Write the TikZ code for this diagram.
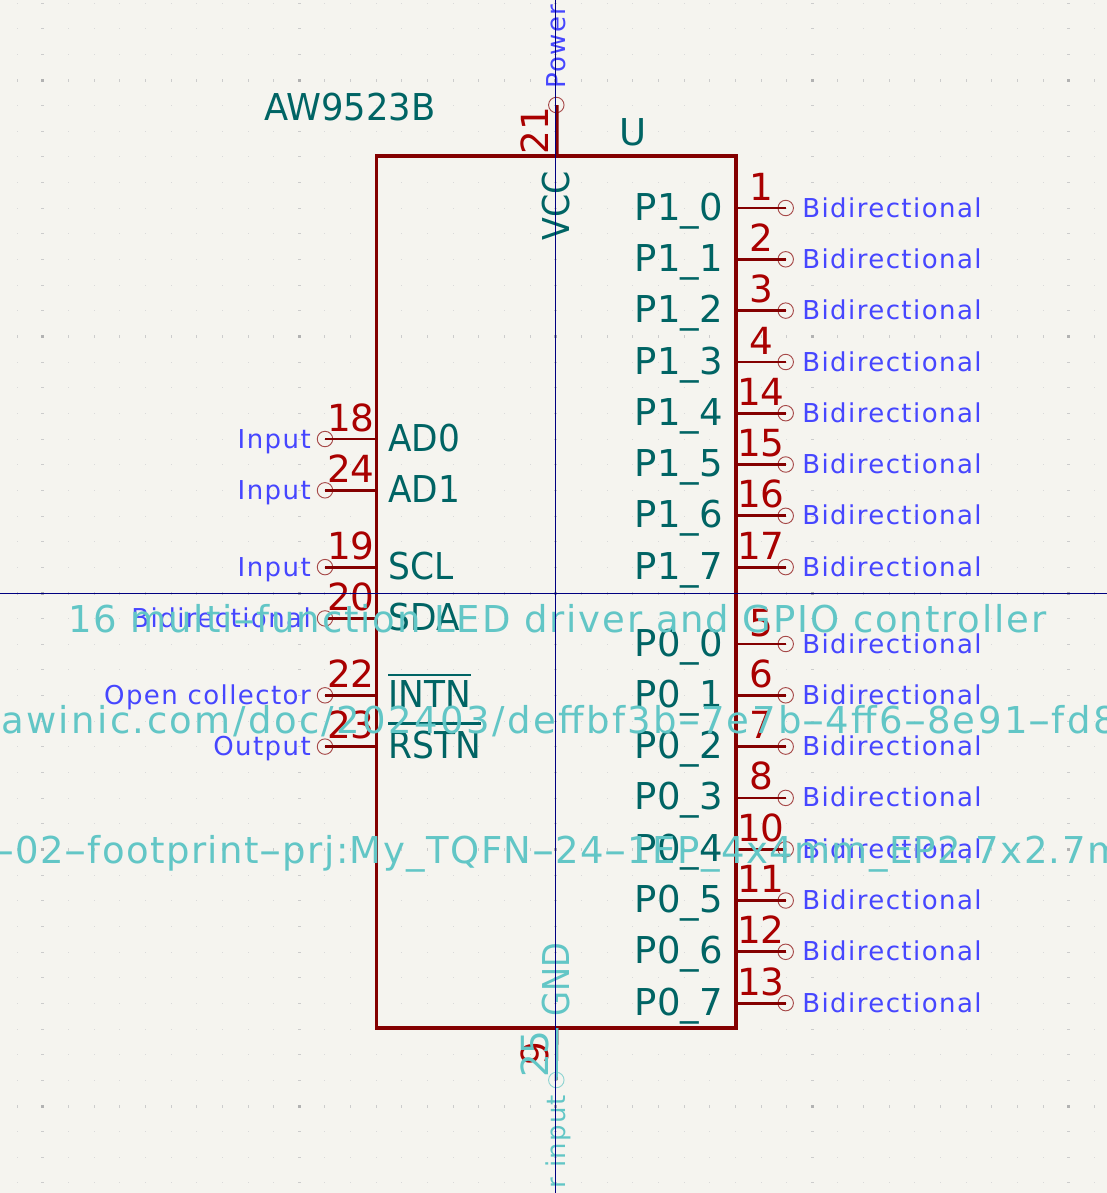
\documentclass[tikz,border=0pt]{standalone}
\usepackage{fontspec}
\setmainfont{DejaVu Sans}
\newfontfamily\typefont[LetterSpace=5.5]{DejaVu Sans}
\newfontfamily\longfont[LetterSpace=5]{DejaVu Sans}
\newfontfamily\urlfont[LetterSpace=6.5]{DejaVu Sans}
\newfontfamily\fpfont[LetterSpace=3.8]{DejaVu Sans}
\newcommand{\hy}{\scalebox{1.8}[1]{-}}
\newcommand{\narrow}[2]{\scalebox{#1}[1]{#2}}
\definecolor{sheet}{HTML}{F5F4EF}
\definecolor{pinred}{HTML}{840000}
\definecolor{numred}{HTML}{A90000}
\definecolor{nameteal}{HTML}{006464}
\definecolor{hiddenteal}{HTML}{62C6C6}
\definecolor{typeblue}{HTML}{4646FF}
\definecolor{crossblue}{HTML}{000080}
\begin{document}
\begin{tikzpicture}[x=0.75pt,y=-0.75pt]
    \tikzstyle{icbox}=[rectangle,draw=pinred,line width=2.4pt,inner sep=0pt,outer sep=0pt,minimum width=269.5pt,minimum height=654pt]
    \tikzstyle{pinend}=[circle,draw=pinred!70!sheet,line width=0.7pt,inner sep=0pt,minimum size=11.6pt]
    \tikzstyle{hiddenend}=[pinend,draw=hiddenteal!70!sheet]
    \tikzstyle{pinline}=[draw=pinred,line width=2.1pt]
    \tikzstyle{pinnum}=[inner sep=0pt,text=numred,font=\fontsize{28}{30}\selectfont]
    \tikzstyle{pinname}=[inner sep=0pt,text=nameteal,font=\fontsize{27.75}{30}\selectfont]
    \tikzstyle{pintype}=[inner sep=0pt,text=typeblue,font=\typefont\fontsize{19.5}{21}\selectfont]
    \tikzstyle{hiddentext}=[inner sep=0pt,text=hiddenteal,font=\longfont\fontsize{27.75}{30}\selectfont]
    \tikzstyle{overbar}=[draw=nameteal,line width=2.1pt]
    \clip (0,0) rectangle (1107,1193);
    \fill[sheet] (0,0) rectangle (1107,1193);
    \foreach \ci in {-21,...,21} \foreach \rj in {-23,...,23}
      \fill[black!15] (555.8+25.65*\ci-0.5,593+25.65*\rj-0.5) rectangle ++(1,1);
    \foreach \ci in {-20,-10,0,10,20} \foreach \rj in {-23,...,23}
      \fill[black!20] (555.8+25.65*\ci-1.5,593+25.65*\rj-0.5) rectangle ++(3,1);
    \foreach \rj in {-20,-10,0,10,20} \foreach \ci in {-21,...,21}
      \fill[black!20] (555.8+25.65*\ci-0.5,593+25.65*\rj-1.5) rectangle ++(1,3);
    \foreach \ci in {-20,-10,0,10,20} \foreach \rj in {-20,-10,0,10,20}
      \fill[black!30] (555.8+25.65*\ci-1.5,593+25.65*\rj-1.5) rectangle ++(3,3);

    \node[icbox] (ic) at (556.3,592) {};
    \foreach \pnum/\pname/\py in {1/P1\_0/208,2/P1\_1/259.3,3/P1\_2/310.6,4/P1\_3/362,14/P1\_4/413.2,15/P1\_5/464.5,16/P1\_6/515.8,17/P1\_7/567.1,5/P0\_0/644,6/P0\_1/695.3,7/P0\_2/746.6,8/P0\_3/797.9,10/P0\_4/849.2,11/P0\_5/900.5,12/P0\_6/951.8,13/P0\_7/1003.1} {
      \node[pinend] (end\pnum) at (785.7,\py) {};
      \draw[pinline] (ic.east |- end\pnum.center) -- (end\pnum.center);
      \node[pinnum,anchor=base] (num\pnum) at (761,\py-8) {\pnum};
      \node[pinname,anchor=base east] (nm\pnum) at (723,\py+12) {\pname};
      \node[pintype,anchor=base west] (ty\pnum) at (802,\py+9) {Bidirectional};
    }
    \foreach \pnum/\pname/\ptype/\py in {18/AD0/Input/439,24/AD1/Input/490.3,19/SCL/Input/567.1,20/SDA/Bidirectional/618.4,22/INTN/Open collector/695.3,23/RSTN/Output/746.6} {
      \node[pinend] (end\pnum) at (325,\py) {};
      \draw[pinline] (ic.west |- end\pnum.center) -- (end\pnum.center);
      \node[pinnum,anchor=base] (num\pnum) at (351,\py-8) {\pnum};
      \node[pinname,anchor=base west] (nm\pnum) at (388,\py+12) {\narrow{0.93}{\pname}};
      \node[pintype,anchor=base east] (ty\pnum) at (311,\py+9) {\ptype};
    }
    \draw[overbar] ([yshift=3.75pt]nm22.north west) -- ([yshift=3.75pt]nm22.north east);
    \draw[overbar] ([yshift=5.25pt]nm23.north west) -- ([yshift=5.25pt]nm23.north east);

    \node[pinend] (end21) at (556.3,105) {};
    \draw[pinline] (end21.center -| ic.north) ++(0.8,0) -- ([xshift=0.6pt]ic.north);
    \node[pinnum,rotate=90,anchor=base] (num21) at (548,130.5) {21};
    \node[pinname,rotate=90,anchor=base west] (nm21) at (569,241) {\narrow{0.9}{VCC}};
    \node[pintype,rotate=90,anchor=base west] (ty21) at (565,89) {Power};

    \node[pinname,anchor=base] (ref) at (633,145) {U};
    \node[pinname,anchor=base west] (part) at (264,120) {\narrow{0.955}{AW9523B}};

    \node[hiddenend] (end9) at (556.3,1080) {};
    \draw[pinline] ([xshift=0.6pt]ic.south) -- (end9.center);
    \node[pinnum,rotate=90,anchor=base] (num9) at (548,1054) {9};
    \draw[pinline,draw=hiddenteal] ([xshift=0.6pt]ic.south) -- (end9.center);
    \node[pinnum,text=hiddenteal,rotate=90,anchor=base] (num25) at (548,1054) {25};
    \node[pinname,text=hiddenteal,rotate=90,anchor=base west] (nmgnd) at (569,1017) {\narrow{0.87}{GND}};
    \node[pintype,text=hiddenteal,rotate=90,anchor=base east] (tygnd) at (565,1095) {r input};

    \node[hiddentext,anchor=base west] (desc) at (68,632) {16 multi\hy function LED driver and GPIO controller};
    \node[hiddentext,anchor=base west,font=\urlfont\fontsize{27.75}{30}\selectfont] (url) at (1,733) {awinic.com/doc/202403/deffbf3b\hy 7e7b\hy 4ff6\hy 8e91\hy fd8};
    \node[hiddentext,anchor=base west,font=\fpfont\fontsize{27.75}{30}\selectfont] (fp) at (-9,863) {\hy 02\hy footprint\hy prj:My\_TQFN\hy 24\hy 1EP\_4x4mm\_EP2.7x2.7mm};

    \coordinate (crossT) at (555.5,0);
    \coordinate (crossB) at (555.5,1193);
    \coordinate (crossL) at (0,593.3);
    \coordinate (crossR) at (1107,593.3);
    \draw[crossblue,line width=0.6pt] (crossT) -- (crossB);
    \draw[crossblue,line width=0.6pt] (crossL) -- (crossR);
  \end{tikzpicture}
\end{document}
